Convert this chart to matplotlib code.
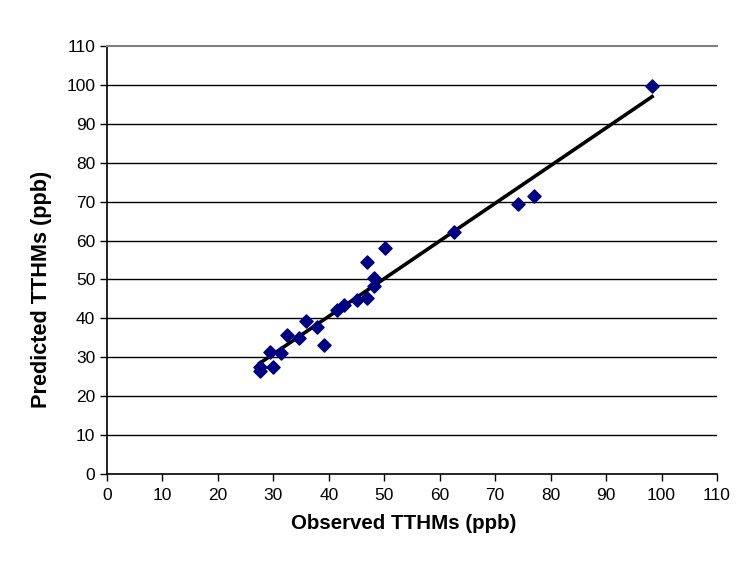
import matplotlib.pyplot as plt
import numpy as np

plt.rcParams['font.family'] = ['Liberation Sans', 'DejaVu Sans']

# observed vs predicted TTHMs (ppb)
observed = [27.5, 27.5, 30.0, 29.4, 31.4, 32.5, 34.6, 35.8, 37.9, 39.1,
            41.5, 42.7, 45.1, 46.8, 46.8, 48.1, 48.1, 50.1, 62.5, 74.2,
            77.0, 98.3]
predicted = [27.5, 26.5, 27.5, 31.3, 31.2, 35.7, 34.9, 39.2, 37.9, 33.2,
             42.2, 43.4, 44.6, 45.3, 54.6, 50.5, 48.2, 58.2, 62.1, 69.4,
             71.5, 99.6]

x_ticks = np.arange(0, 111, 10)
y_ticks = np.arange(0, 111, 10)

fig = plt.figure(figsize=(7.47, 5.83), dpi=100)
ax = fig.add_axes([107/747, 1 - 474/583, 610/747, 428/583])

# trend line
obs = np.array(observed)
pred = np.array(predicted)
slope, intercept = np.polyfit(obs, pred, 1)
xl = np.array([obs.min(), obs.max()])
ax.plot(xl, slope*xl + intercept, color='black', lw=2.6, zorder=2)

ax.scatter(obs, pred, marker='D', s=45, color='#000080', zorder=3)

ax.set_xlim(0, 110)
ax.set_ylim(0, 110)
ax.set_xticks(x_ticks)
ax.set_yticks(y_ticks)
ax.tick_params(direction='out', length=5, width=1, labelsize=12.5, color='black')
ax.tick_params(axis='x', pad=5)
for y in y_ticks[1:-1]:
    ax.axhline(y, color='black', lw=1, zorder=1)

ax.spines['right'].set_visible(False)
ax.spines['top'].set_color('#808080')
ax.spines['top'].set_linewidth(1.5)
ax.spines['left'].set_linewidth(1.2)
ax.spines['bottom'].set_linewidth(1.2)

ax.set_xlabel('Observed TTHMs (ppb)', fontsize=14.8, fontweight='bold')
ax.set_ylabel('Predicted TTHMs (ppb)', fontsize=15.6, fontweight='bold')
ax.xaxis.set_label_coords(0.486, -0.094)
ax.yaxis.set_label_coords(-0.090, 0.431)

fig.savefig('out.png', dpi=100)
